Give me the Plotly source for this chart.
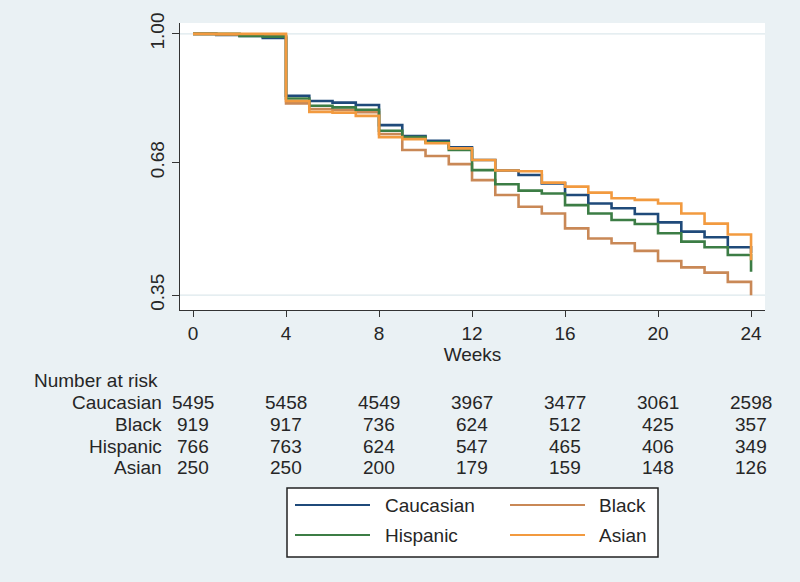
import plotly.graph_objects as go

# ---------------- data ----------------
weeks = list(range(25))
groups = ["Caucasian", "Black", "Hispanic", "Asian"]

surv_caucasian = [1.0, 0.997, 0.995, 0.990, 0.846, 0.833, 0.829, 0.823, 0.773, 0.746,
                  0.734, 0.718, 0.686, 0.660, 0.649, 0.628, 0.599, 0.578, 0.566, 0.552,
                  0.531, 0.508, 0.494, 0.469, 0.455]
surv_black = [1.0, 0.998, 0.996, 0.995, 0.827, 0.813, 0.811, 0.805, 0.751, 0.711,
              0.696, 0.676, 0.636, 0.599, 0.570, 0.553, 0.516, 0.491, 0.479, 0.460,
              0.435, 0.419, 0.406, 0.383, 0.350]
surv_hispanic = [1.0, 1.0, 0.995, 0.993, 0.839, 0.821, 0.817, 0.811, 0.759, 0.743,
                 0.730, 0.711, 0.661, 0.626, 0.610, 0.603, 0.574, 0.553, 0.537, 0.527,
                 0.504, 0.483, 0.469, 0.450, 0.408]
surv_asian = [1.0, 1.0, 1.0, 1.0, 0.833, 0.806, 0.804, 0.796, 0.743, 0.738,
              0.728, 0.715, 0.686, 0.660, 0.658, 0.630, 0.620, 0.605, 0.591, 0.587,
              0.578, 0.553, 0.528, 0.501, 0.437]

risk_weeks = [0, 4, 8, 12, 16, 20, 24]
risk_caucasian = [5495, 5458, 4549, 3967, 3477, 3061, 2598]
risk_black = [919, 917, 736, 624, 512, 425, 357]
risk_hispanic = [766, 763, 624, 547, 465, 406, 349]
risk_asian = [250, 250, 200, 179, 159, 148, 126]

y_ticks = [0.35, 0.68, 1.00]
y_ticktext = ["0.35", "0.68", "1.00"]

# ---------------- style ----------------
colors = {"Caucasian": "#1f4a7a", "Black": "#c98856", "Hispanic": "#3c7d45", "Asian": "#f29a3f"}
series = {"Caucasian": surv_caucasian, "Black": surv_black,
          "Hispanic": surv_hispanic, "Asian": surv_asian}
risks = {"Caucasian": risk_caucasian, "Black": risk_black,
         "Hispanic": risk_hispanic, "Asian": risk_asian}

FONT = "Liberation Sans, Arial, sans-serif"
BG = "#eaf1f4"
TXT = "#262626"
W, H = 800, 582
L, R, T, B = 180, 765, 23, 310


def px(x):
    return (x - L) / (R - L)


def py(y):
    return (B - y) / (B - T)


fig = go.Figure()
for g in groups:
    fig.add_trace(go.Scatter(x=weeks, y=series[g], mode="lines", line_shape="hv",
                             line=dict(color=colors[g], width=2.6), name=g,
                             showlegend=False, hoverinfo="skip"))

shapes = []
# faint gridlines at 1.00 and 0.35
for yv in [y_ticks[0], y_ticks[-1]]:
    shapes.append(dict(type="line", xref="paper", yref="y", x0=0, x1=1, y0=yv, y1=yv,
                       line=dict(color="#dde8ec", width=1.2), layer="below"))

annotations = []
# Number at risk table
annotations.append(dict(text="Number at risk", xref="paper", yref="paper", x=px(32), y=py(380),
                        xanchor="left", yanchor="middle", showarrow=False,
                        font=dict(family=FONT, size=19, color=TXT)))
row_y = [402, 424, 446, 467]
for g, ry in zip(groups, row_y):
    annotations.append(dict(text=g, xref="paper", yref="paper", x=px(164), y=py(ry),
                            xanchor="right", yanchor="middle", showarrow=False,
                            font=dict(family=FONT, size=19, color=TXT)))
    for wk, n in zip(risk_weeks, risks[g]):
        annotations.append(dict(text=str(n), xref="x", yref="paper", x=wk, y=py(ry),
                                xanchor="center", yanchor="middle", showarrow=False,
                                font=dict(family=FONT, size=19, color=TXT)))

# custom legend
shapes.append(dict(type="rect", xref="paper", yref="paper", x0=px(287), x1=px(658),
                   y0=py(488), y1=py(557), line=dict(color="#222", width=1.5),
                   fillcolor="white", layer="below"))
leg_pos = {"Caucasian": (295, 383, 505), "Black": (510, 597, 505),
           "Hispanic": (295, 383, 535), "Asian": (510, 597, 535)}
for g in groups:
    lx, tx, ly = leg_pos[g]
    shapes.append(dict(type="line", xref="paper", yref="paper", x0=px(lx), x1=px(lx + 75),
                       y0=py(ly), y1=py(ly), line=dict(color=colors[g], width=2.2)))
    annotations.append(dict(text=g, xref="paper", yref="paper", x=px(tx), y=py(ly),
                            xanchor="left", yanchor="middle", showarrow=False,
                            font=dict(family=FONT, size=19, color=TXT)))

fig.update_layout(
    width=W, height=H,
    margin=dict(l=L, r=W - R, t=T, b=H - B, pad=0),
    paper_bgcolor=BG, plot_bgcolor="white",
    font=dict(family=FONT, size=19, color=TXT),
    shapes=shapes, annotations=annotations,
    showlegend=False,
)
fig.update_xaxes(range=[-0.56, 24.6], tickvals=risk_weeks, ticks="outside", ticklen=6,
                 tickcolor="#333", showline=True, linecolor="#333", linewidth=1.3,
                 showgrid=False, zeroline=False, tickfont=dict(size=19),
                 title=dict(text="Weeks", standoff=0, font=dict(size=19)))
fig.update_yaxes(range=[0.313, 1.027], tickvals=y_ticks, ticktext=y_ticktext,
                 ticks="outside", ticklen=7, tickcolor="#333", tickangle=-90,
                 showline=True, linecolor="#333", linewidth=1.3, showgrid=False,
                 zeroline=False, tickfont=dict(size=19))

fig.write_html(
    "out.html",
    config={"displayModeBar": False},
    post_script="document.body.style.margin='0';document.body.style.background='%s';" % BG,
)
